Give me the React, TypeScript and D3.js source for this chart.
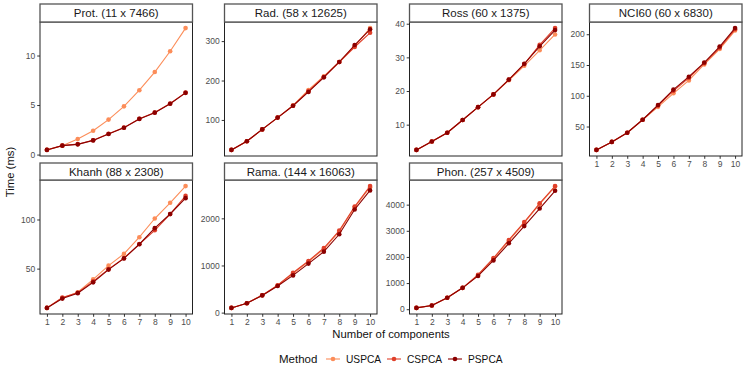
import React, { useEffect, useRef } from "react";
import * as d3 from "d3";

const components = [1, 2, 3, 4, 5, 6, 7, 8, 9, 10];
const methods = ["USPCA", "CSPCA", "PSPCA"];
const panelTitles = [
  "Prot. (11 x 7466)",
  "Rad. (58 x 12625)",
  "Ross (60 x 1375)",
  "NCI60 (60 x 6830)",
  "Khanh (88 x 2308)",
  "Rama. (144 x 16063)",
  "Phon. (257 x 4509)",
];

// times in ms, one array per panel (same order as panelTitles)
const uspca = [
  [0.47, 0.9, 1.57, 2.4, 3.53, 4.87, 6.5, 8.33, 10.43, 12.77],
  [24, 46, 76, 106, 137, 176, 211, 247, 287, 333],
  [2.5, 5.0, 7.6, 11.4, 15.2, 19.0, 23.2, 27.5, 32.1, 36.8],
  [12, 25, 40, 61, 82, 104, 125, 151, 176, 206],
  [10, 20, 26, 39, 53, 65, 82, 101, 117, 134],
  [100, 200, 370, 575, 830, 1080, 1350, 1720, 2230, 2660],
  [50, 140, 440, 818, 1290, 1930, 2610, 3300, 4020, 4690],
];
const cspca = [
  [0.48, 0.92, 1.05, 1.45, 2.1, 2.72, 3.62, 4.25, 5.15, 6.25],
  [24, 46, 76, 106, 136, 173, 209, 247, 285, 321],
  [2.5, 5.0, 7.6, 11.4, 15.2, 19.0, 23.4, 28.0, 33.7, 38.7],
  [12, 25, 40, 61, 84, 108, 129, 153, 178, 208],
  [10, 20.5, 25.5, 37, 49.5, 60.5, 75, 89, 105.5, 124],
  [100, 200, 370, 580, 845, 1096, 1370, 1740, 2250, 2684],
  [50, 140, 440, 818, 1320, 1955, 2650, 3333, 4050, 4710],
];
const pspca = [
  [0.47, 0.9, 1.03, 1.43, 2.07, 2.7, 3.6, 4.23, 5.13, 6.23],
  [24, 46, 76, 106, 136, 171, 208, 247, 290, 330],
  [2.5, 5.0, 7.6, 11.4, 15.2, 19.0, 23.4, 28.1, 33.3, 38.1],
  [12, 25, 40, 61, 85, 110, 131, 154, 180, 210],
  [10, 19.5, 25, 36, 49, 60.4, 74.8, 91.2, 105.6, 121.7],
  [100, 200, 365, 566, 790, 1040, 1293, 1662, 2187, 2593],
  [50, 140, 440, 818, 1273, 1867, 2523, 3180, 3850, 4530],
];
const yTicks = [
  [0, 5, 10],
  [100, 200, 300],
  [10, 20, 30, 40],
  [50, 100, 150, 200],
  [50, 100],
  [0, 1000, 2000],
  [0, 1000, 2000, 3000, 4000],
];

const colors = ["#FC8D59", "#E0402A", "#8B0000"];
const FONT = "'Liberation Sans', Arial, Helvetica, sans-serif";

const App = () => {
  const ref = useRef<SVGSVGElement | null>(null);

  useEffect(() => {
    const width = 747;
    const height = 374;
    const colLeft = [40, 224.5, 409.5, 589.5];
    const panelW = 152.5;
    const stripTop = [4, 163];
    const panelTop = [22, 180];
    const panelH = 134;

    const svg = d3.select(ref.current);
    svg.selectAll("*").remove();
    svg.attr("width", width).attr("height", height);
    svg.append("rect").attr("width", width).attr("height", height).attr("fill", "white");

    const allSeries = [uspca, cspca, pspca];

    panelTitles.forEach((title, i) => {
      const row = Math.floor(i / 4);
      const col = i % 4;
      const x0 = colLeft[col];
      const y0 = panelTop[row];
      const g = svg.append("g").attr("transform", `translate(${x0},${y0})`);

      const xScale = d3
        .scaleLinear()
        .domain([1 - 0.45, 10 + 0.45])
        .range([0, panelW]);

      const vals = allSeries.flatMap((s) => s[i]);
      const [lo, hi] = d3.extent(vals) as [number, number];
      const pad = (hi - lo) * 0.05;
      const yScale = d3.scaleLinear().domain([lo - pad, hi + pad]).range([panelH, 0]);

      // y axis
      const yAxis = g.append("g").call(
        d3
          .axisLeft(yScale)
          .tickValues(yTicks[i])
          .tickFormat((d) => String(d))
          .tickSize(2.8)
          .tickPadding(2)
      );
      yAxis.select(".domain").remove();
      yAxis.selectAll("line").attr("stroke", "#333");
      yAxis
        .selectAll("text")
        .attr("fill", "#4D4D4D")
        .style("font-family", FONT)
        .style("font-size", "8.5px");

      // x axis only where no panel sits below
      const showX = row === 1 || col === 3;
      if (showX) {
        const xAxis = g
          .append("g")
          .attr("transform", `translate(0,${panelH})`)
          .call(
            d3
              .axisBottom(xScale)
              .tickValues(components)
              .tickFormat((d) => String(d))
              .tickSize(2.8)
              .tickPadding(2)
          );
        xAxis.select(".domain").remove();
        xAxis.selectAll("line").attr("stroke", "#333");
        xAxis
          .selectAll("text")
          .attr("fill", "#4D4D4D")
          .style("font-family", FONT)
          .style("font-size", "8.5px");
      }

      const line = d3
        .line<number>()
        .x((_, j) => xScale(components[j]))
        .y((d) => yScale(d));

      allSeries.forEach((s, m) => {
        g.append("path")
          .datum(s[i])
          .attr("fill", "none")
          .attr("stroke", colors[m])
          .attr("stroke-width", 1.1)
          .attr("d", line);
        g.selectAll(null)
          .data(s[i])
          .enter()
          .append("circle")
          .attr("cx", (_, j) => xScale(components[j]))
          .attr("cy", (d) => yScale(d))
          .attr("r", 2.3)
          .attr("fill", colors[m]);
      });

      // panel border
      g.append("rect")
        .attr("width", panelW)
        .attr("height", panelH)
        .attr("fill", "none")
        .attr("stroke", "#222")
        .attr("stroke-width", 1);

      // strip
      const sTop = stripTop[row];
      svg
        .append("rect")
        .attr("x", x0)
        .attr("y", sTop)
        .attr("width", panelW)
        .attr("height", y0 - sTop)
        .attr("fill", "white")
        .attr("stroke", "#555")
        .attr("stroke-width", 1.3);
      svg
        .append("text")
        .attr("x", x0 + panelW / 2)
        .attr("y", (sTop + y0) / 2 + 4)
        .attr("text-anchor", "middle")
        .attr("fill", "#1A1A1A")
        .style("font-family", FONT)
        .style("font-size", "11.5px")
        .text(title);
    });

    // axis titles
    svg
      .append("text")
      .attr("x", 391)
      .attr("y", 338)
      .attr("text-anchor", "middle")
      .attr("fill", "#111")
      .style("font-family", FONT)
      .style("font-size", "11.3px")
      .text("Number of components");

    svg
      .append("text")
      .attr("transform", "translate(14,172) rotate(-90)")
      .attr("text-anchor", "middle")
      .attr("fill", "#111")
      .style("font-family", FONT)
      .style("font-size", "11.3px")
      .text("Time (ms)");

    // legend
    const legend = svg.append("g").attr("transform", "translate(0,359)");
    legend
      .append("text")
      .attr("x", 279)
      .attr("y", 4)
      .attr("fill", "#111")
      .style("font-family", FONT)
      .style("font-size", "11.5px")
      .text("Method");
    const keyX = [333, 394, 455];
    methods.forEach((m, k) => {
      legend
        .append("line")
        .attr("x1", keyX[k] - 7)
        .attr("x2", keyX[k] + 7)
        .attr("y1", 0)
        .attr("y2", 0)
        .attr("stroke", colors[k])
        .attr("stroke-width", 1.1);
      legend.append("circle").attr("cx", keyX[k]).attr("cy", 0).attr("r", 2.3).attr("fill", colors[k]);
      legend
        .append("text")
        .attr("x", keyX[k] + 13)
        .attr("y", 3.7)
        .attr("fill", "#111")
        .style("font-family", FONT)
        .style("font-size", "10.2px")
        .text(m);
    });
  }, []);

  return (
    <svg
      ref={ref}
      style={{ position: "absolute", left: 0, top: 0, display: "block" }}
    />
  );
};

export default App;
